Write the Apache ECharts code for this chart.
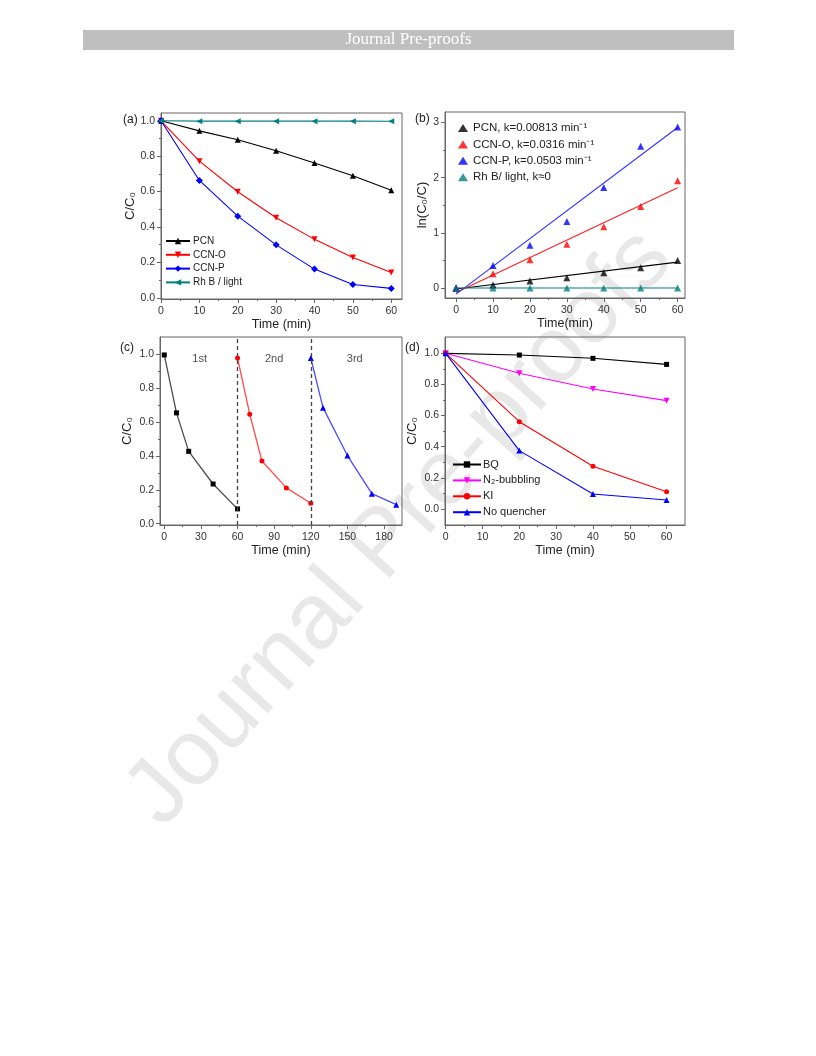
<!DOCTYPE html>
<html><head><meta charset="utf-8">
<script src="https://cdn.jsdelivr.net/npm/echarts@6/dist/echarts.min.js"></script>
<style>html,body{margin:0;padding:0;background:#fff}#c{width:816px;height:1056px}</style>
</head><body><div id="c"></div><script>
// ---------- data ----------
// (a) degradation C/C0 vs time
const aTime = [0, 10, 20, 30, 40, 50, 60];
const aPCN  = [1.0, 0.943, 0.893, 0.831, 0.761, 0.689, 0.608];
const aCCNO = [1.0, 0.772, 0.599, 0.452, 0.330, 0.228, 0.143];
const aCCNP = [1.0, 0.663, 0.461, 0.299, 0.162, 0.075, 0.053];
const aRhB  = [1.0, 0.998, 0.998, 0.998, 0.998, 0.998, 0.997];
const aNames = ['PCN', 'CCN-O', 'CCN-P', 'Rh B / light'];
// (b) ln(C0/C) vs time with linear fits
const bTime = [0, 10, 20, 30, 40, 50, 60];
const bPCN  = [0, 0.055, 0.128, 0.188, 0.279, 0.370, 0.498];
const bCCNO = [0, 0.259, 0.512, 0.794, 1.109, 1.478, 1.945];
const bCCNP = [0, 0.411, 0.774, 1.207, 1.820, 2.570, 2.920];
const bRhB  = [0, 0, 0, 0, 0, 0, 0];
const bFitTime = [0, 60];
const bFitPCN  = [-0.018, 0.470];
const bFitCCNO = [-0.080, 1.816];
const bFitCCNP = [-0.110, 2.908];
const bFitRhB  = [0, 0];
const bNames = ['PCN, k=0.00813 min\u207B\u00B9', 'CCN-O, k=0.0316 min\u207B\u00B9', 'CCN-P, k=0.0503 min\u207B\u00B9', 'Rh B/ light, k\u22480'];
// (c) cycling test
const cTime1 = [0, 10, 20, 40, 60];
const cRun1  = [0.996, 0.654, 0.427, 0.234, 0.087];
const cTime2 = [60, 70, 80, 100, 120];
const cRun2  = [0.978, 0.646, 0.370, 0.211, 0.120];
const cTime3 = [120, 130, 150, 170, 190];
const cRun3  = [0.978, 0.685, 0.402, 0.177, 0.112];
const cCycleNames = ['1st', '2nd', '3rd'];
const cCycleX = [29, 90, 156];
const cCycleY = [0.975, 0.975, 0.975];
const cDivide = [60, 120];
// (d) quenching experiments
const dTime = [0, 20, 40, 60];
const dBQ   = [1.0, 0.989, 0.968, 0.929];
const dN2   = [1.0, 0.872, 0.771, 0.696];
const dKI   = [1.0, 0.561, 0.274, 0.111];
const dNo   = [1.0, 0.375, 0.096, 0.058];
const dNames = ['BQ', 'N\u2082-bubbling', 'KI', 'No quencher'];
// ticks
const tA_X = [0, 10, 20, 30, 40, 50, 60], tA_Xm = [5, 15, 25, 35, 45, 55];
const tY1 = [0, 0.2, 0.4, 0.6, 0.8, 1.0], tY1m = [0.1, 0.3, 0.5, 0.7, 0.9];
const tB_Y = [0, 1, 2, 3], tB_Ym = [0.5, 1.5, 2.5];
const tC_X = [0, 30, 60, 90, 120, 150, 180], tC_Xm = [15, 45, 75, 105, 135, 165];

// ---------- style ----------
const FONT = '"Liberation Sans", Arial, sans-serif';
const FRAME = '#666';
const zip = (xs, ys) => xs.map((x, i) => [x, ys[i]]);
const f1 = v => v.toFixed(1);
const f0 = v => String(Math.round(v));

function axes(dim, g, min, max, ticks, minor, fmt, name, gap) {
  const pos = dim === 'x' ? 'bottom' : 'left';
  const main = {
    type: 'value', gridIndex: g, min, max, position: pos,
    axisLine: { show: true, onZero: false, lineStyle: { color: FRAME, width: 1 } },
    axisTick: { show: true, customValues: ticks, length: 4, lineStyle: { color: FRAME, width: 1 } },
    axisLabel: { customValues: ticks, formatter: fmt, fontSize: 10.5, color: '#333', margin: dim === 'x' ? 7 : 6, fontFamily: FONT },
    splitLine: { show: false },
    name, nameLocation: 'middle', nameGap: gap,
    nameTextStyle: { fontSize: dim === 'x' ? 12.5 : 13, color: '#222', fontFamily: FONT }
  };
  const mn = {
    type: 'value', gridIndex: g, min, max, position: pos,
    axisLine: { show: false, onZero: false },
    axisTick: { show: true, customValues: minor, length: 2, lineStyle: { color: FRAME, width: 1 } },
    axisLabel: { show: false }, splitLine: { show: false }
  };
  return [main, mn];
}

const grids = [
  { left: 161, top: 113, width: 241, height: 186 },
  { left: 445, top: 112, width: 240, height: 186 },
  { left: 160, top: 337, width: 242, height: 188 },
  { left: 445, top: 337, width: 240, height: 188 }
].map(g => Object.assign(g, { show: true, borderColor: FRAME, borderWidth: 1, backgroundColor: 'transparent' }));

const xa = axes('x', 0, 0, 62.8, tA_X, tA_Xm, f0, 'Time (min)', 17);
const xb = axes('x', 1, -3, 62, tA_X, tA_Xm, f0, 'Time(min)', 17);
const xc = axes('x', 2, -3.5, 194.7, tC_X, tC_Xm, f0, 'Time (min)', 19);
const xd = axes('x', 3, -0.19, 65, tA_X, tA_Xm, f0, 'Time (min)', 16);
const ya = axes('y', 0, -0.007, 1.044, tY1, tY1m, f1, 'C/C\u2080', 24);
const yb = axes('y', 1, -0.18, 3.19, tB_Y, tB_Ym, f0, 'ln(C\u2080/C)', 16);
const yc = axes('y', 2, -0.008, 1.102, tY1, tY1m, f1, 'C/C\u2080', 26);
const yd = axes('y', 3, -0.103, 1.105, tY1, tY1m, f1, 'C/C\u2080', 26);

const xAxis = [xa[0], xb[0], xc[0], xd[0], xa[1], xb[1], xc[1], xd[1]];
const yAxis = [ya[0], yb[0], yc[0], yd[0], ya[1], yb[1], yc[1], yd[1]];

const TRI_DOWN = 'path://M0,0 L10,0 L5,9 Z';
const TRI_LEFT = 'path://M0,5 L9,0 L9,10 Z';

function lineS(name, g, xs, ys, color, symbol, size, extra) {
  return Object.assign({
    name, type: 'line', xAxisIndex: g, yAxisIndex: g, data: zip(xs, ys),
    symbol, symbolSize: size, showSymbol: true,
    lineStyle: { color, width: 1.1 }, itemStyle: { color },
    emphasis: { disabled: true }, animation: false, z: 3
  }, extra || {});
}
function scatterS(name, g, xs, ys, color) {
  return { name, type: 'scatter', xAxisIndex: g, yAxisIndex: g, data: zip(xs, ys),
    symbol: 'triangle', symbolSize: 7, itemStyle: { color }, animation: false, z: 4 };
}
function fitS(name, g, xs, ys, color) {
  return { name, type: 'line', xAxisIndex: g, yAxisIndex: g, data: zip(xs, ys),
    showSymbol: false, symbol: 'none', lineStyle: { color, width: 1.1 }, itemStyle: { color },
    animation: false, z: 3 };
}

const series = [
  // (a)
  lineS(aNames[0], 0, aTime, aPCN, '#000000', 'triangle', 6),
  lineS(aNames[1], 0, aTime, aCCNO, '#ff0000', TRI_DOWN, 6),
  lineS(aNames[2], 0, aTime, aCCNP, '#0000ff', 'diamond', 7),
  lineS(aNames[3], 0, aTime, aRhB, '#008080', TRI_LEFT, 6),
  // (b)
  fitS('fit1', 1, bFitTime, bFitPCN, '#000000'),
  fitS('fit2', 1, bFitTime, bFitCCNO, '#ff2020'),
  fitS('fit3', 1, bFitTime, bFitCCNP, '#3030ff'),
  fitS('fit4', 1, bFitTime, bFitRhB, '#008080'),
  scatterS(bNames[0], 1, bTime, bPCN, '#000000'),
  scatterS(bNames[1], 1, bTime, bCCNO, '#ff0000'),
  scatterS(bNames[2], 1, bTime, bCCNP, '#0000ff'),
  scatterS(bNames[3], 1, bTime, bRhB, '#008080'),
  // (c)
  lineS('run1', 2, cTime1, cRun1, '#000000', 'rect', 5, {
    lineStyle: { color: '#000', width: 1.3, opacity: 0.7 },
    markLine: { silent: true, symbol: 'none', label: { show: false }, animation: false,
      lineStyle: { type: [4, 3], color: '#444', width: 1.3 },
      data: cDivide.map(v => ({ xAxis: v })) }
  }),
  lineS('run2', 2, cTime2, cRun2, '#ff0000', 'circle', 5, { lineStyle: { color: '#ff0000', width: 1.3, opacity: 0.7 } }),
  lineS('run3', 2, cTime3, cRun3, '#0000ff', 'triangle', 6, { lineStyle: { color: '#0000ff', width: 1.3, opacity: 0.7 } }),
  { name: 'cycles', type: 'scatter', xAxisIndex: 2, yAxisIndex: 2,
    data: cCycleX.map((x, i) => [x, cCycleY[i], cCycleNames[i]]),
    symbolSize: 0, silent: true, animation: false,
    label: { show: true, position: 'inside', formatter: p => p.value[2], fontSize: 11, color: '#222', fontFamily: FONT } },
  // (d)
  lineS(dNames[0], 3, dTime, dBQ, '#000000', 'rect', 5),
  lineS(dNames[1], 3, dTime, dN2, '#ff00ff', TRI_DOWN, 6),
  lineS(dNames[2], 3, dTime, dKI, '#ff0000', 'circle', 5),
  lineS(dNames[3], 3, dTime, dNo, '#0000ff', 'triangle', 6)
];

const legends = [
  { data: aNames, orient: 'vertical', left: 165, top: 235, itemWidth: 24, itemHeight: 8, itemGap: 1.8,
    padding: 0, textStyle: { fontSize: 10, lineHeight: 12, color: '#222', fontFamily: FONT, padding: [0, 0, 0, -2] } },
  { data: bNames, orient: 'vertical', left: 458, top: 121, itemWidth: 10, itemHeight: 8, itemGap: 2.4,
    padding: 0, textStyle: { fontSize: 11.5, lineHeight: 14, color: '#222', fontFamily: FONT } },
  { data: dNames, orient: 'vertical', left: 452, top: 458, itemWidth: 28, itemHeight: 8, itemGap: 2.9,
    padding: 0, textStyle: { fontSize: 11, lineHeight: 13, color: '#222', fontFamily: FONT, padding: [0, 0, 0, -3] } }
];

const panelLbl = (t, x, y) => ({ type: 'text', left: x, top: y, silent: true,
  style: { text: t, fontSize: 12, fill: '#222', font: '12px ' + FONT } });

const graphic = [
  { type: 'text', z: -10, silent: true, x: 400, y: 528, rotation: 48 * Math.PI / 180,
    style: { text: 'Journal Pre-proofs', font: '93px "Liberation Sans", Arial, sans-serif', fill: '#e8e8e8',
      align: 'center', verticalAlign: 'middle' } },
  { type: 'rect', silent: true, shape: { x: 83, y: 30, width: 651, height: 20 }, style: { fill: '#bfbfbf' } },
  { type: 'text', silent: true, x: 408.5, y: 40,
    style: { text: 'Journal Pre-proofs', font: '17px "Liberation Serif", "Times New Roman", serif', fill: '#ffffff',
      align: 'center', verticalAlign: 'middle' } },
  panelLbl('(a)', 123, 114),
  panelLbl('(b)', 415, 113),
  panelLbl('(c)', 120, 342),
  panelLbl('(d)', 405, 342)
];

const chart = echarts.init(document.getElementById('c'), null, { renderer: 'canvas', width: 816, height: 1056 });
chart.setOption({
  animation: false,
  backgroundColor: '#ffffff',
  textStyle: { fontFamily: FONT },
  grid: grids, xAxis, yAxis, series, legend: legends, graphic
});
</script></body></html>
